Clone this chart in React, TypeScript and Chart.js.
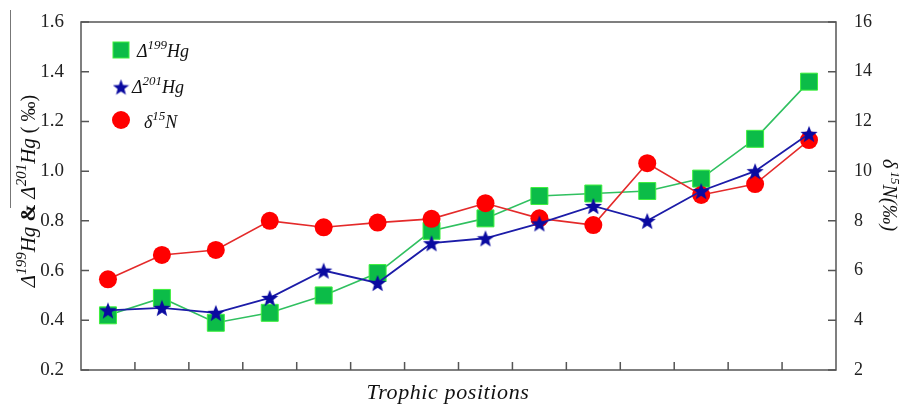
import React, { useEffect, useRef } from 'react';
import { Chart, registerables } from 'chart.js';
Chart.register(...registerables);

const categories = ['1', '2', '3', '4', '5', '6', '7', '8', '9', '10', '11', '12', '13', '14'];
const d199Hg = [0.42, 0.49, 0.39, 0.43, 0.50, 0.59, 0.76, 0.81, 0.90, 0.91, 0.92, 0.97, 1.13, 1.36];
const d201Hg = [0.44, 0.45, 0.43, 0.49, 0.60, 0.55, 0.71, 0.73, 0.79, 0.86, 0.80, 0.92, 1.00, 1.15];
const d15N = [5.65, 6.63, 6.83, 8.0, 7.74, 7.93, 8.08, 8.71, 8.10, 7.83, 10.32, 9.04, 9.48, 11.25];
const leftTicks = [0.2, 0.4, 0.6, 0.8, 1.0, 1.2, 1.4, 1.6];
const rightTicks = [2, 4, 6, 8, 10, 12, 14, 16];
const xTitle = 'Trophic positions';

const SERIF = '"Liberation Serif", "DejaVu Serif", serif';
const GREEN_FILL = '#0cbc48';
const GREEN_EDGE = '#3ef03e';
const GREEN_LINE = '#30c060';
const BLUE = '#0a0aa0';
const BLUE_LINE = '#1c1ca8';
const RED = '#ff0000';
const RED_LINE = '#e42a2a';
const AXIS = '#555555';

function makeStar(size: number, fill: string) {
  const c = document.createElement('canvas');
  c.width = size;
  c.height = size;
  const g = c.getContext('2d')!;
  const cx = size / 2;
  const cy = size / 2 + size * 0.05;
  const R = size / 2;
  const r = R * 0.42;
  g.beginPath();
  for (let i = 0; i < 10; i++) {
    const rad = i % 2 === 0 ? R : r;
    const a = -Math.PI / 2 + (i * Math.PI) / 5;
    const px = cx + rad * Math.cos(a);
    const py = cy + rad * Math.sin(a);
    if (i === 0) g.moveTo(px, py);
    else g.lineTo(px, py);
  }
  g.closePath();
  g.fillStyle = fill;
  g.fill();
  return c;
}

type Part = { t: string; font: string; dy?: number };

function richWidth(ctx: CanvasRenderingContext2D, parts: Part[]) {
  let w = 0;
  for (const p of parts) {
    ctx.font = p.font;
    w += ctx.measureText(p.t).width;
  }
  return w;
}

function drawRich(ctx: CanvasRenderingContext2D, x: number, y: number, parts: Part[]) {
  ctx.textAlign = 'left';
  ctx.textBaseline = 'alphabetic';
  let cx = x;
  for (const p of parts) {
    ctx.font = p.font;
    ctx.fillText(p.t, cx, y + (p.dy || 0));
    cx += ctx.measureText(p.t).width;
  }
}

const it = (s: number) => `italic ${s}px ${SERIF}`;
const up = (s: number) => `${s}px ${SERIF}`;

const decorPlugin = {
  id: 'decor',
  afterDraw(chart: any) {
    const ctx: CanvasRenderingContext2D = chart.ctx;
    const { left, right, top, bottom } = chart.chartArea;
    const x = chart.scales.x;
    const yl = chart.scales.yL;
    const yr = chart.scales.yR;
    ctx.save();
    // frame
    ctx.strokeStyle = AXIS;
    ctx.lineWidth = 1.5;
    ctx.strokeRect(left, top, right - left, bottom - top);
    // inner ticks
    ctx.beginPath();
    for (let i = 1; i < categories.length; i++) {
      const px = (x.getPixelForTick(i - 1) + x.getPixelForTick(i)) / 2;
      ctx.moveTo(px, bottom);
      ctx.lineTo(px, bottom - 8);
    }
    for (const v of leftTicks) {
      const py = yl.getPixelForValue(v);
      ctx.moveTo(left, py);
      ctx.lineTo(left + 8, py);
    }
    for (const v of rightTicks) {
      const py = yr.getPixelForValue(v);
      ctx.moveTo(right, py);
      ctx.lineTo(right - 8, py);
    }
    ctx.stroke();

    // legend
    const lx = 121;
    ctx.fillStyle = GREEN_FILL;
    ctx.fillRect(lx - 8, 50 - 8, 16, 16);
    ctx.strokeStyle = GREEN_EDGE;
    ctx.lineWidth = 1;
    ctx.strokeRect(lx - 8, 50 - 8, 16, 16);
    const star = makeStar(17, BLUE);
    ctx.drawImage(star, lx - 8.5, 87 - 8.5);
    ctx.fillStyle = RED;
    ctx.beginPath();
    ctx.arc(lx, 120, 9, 0, Math.PI * 2);
    ctx.fill();

    ctx.fillStyle = '#111111';
    drawRich(ctx, 137, 57, [
      { t: 'Δ', font: it(18) },
      { t: '199', font: it(13), dy: -8 },
      { t: 'Hg', font: it(18) },
    ]);
    drawRich(ctx, 132, 93, [
      { t: 'Δ', font: it(18) },
      { t: '201', font: it(13), dy: -8 },
      { t: 'Hg', font: it(18) },
    ]);
    drawRich(ctx, 144, 128, [
      { t: 'δ', font: it(18) },
      { t: '15', font: it(13), dy: -8 },
      { t: 'N', font: it(18) },
    ]);

    // left axis title
    const lparts: Part[] = [
      { t: 'Δ', font: it(21) },
      { t: '199', font: it(15), dy: -9 },
      { t: 'Hg', font: it(21) },
      { t: ' & ', font: `bold 21px ${SERIF}` },
      { t: 'Δ', font: it(21) },
      { t: '201', font: it(15), dy: -9 },
      { t: 'Hg', font: it(21) },
      { t: ' ( ‰)', font: up(20) },
    ];
    const lw = richWidth(ctx, lparts);
    ctx.save();
    ctx.translate(35, 191);
    ctx.rotate(-Math.PI / 2);
    drawRich(ctx, -lw / 2, 0, lparts);
    ctx.restore();
    // stray overline next to left title
    ctx.strokeStyle = '#777777';
    ctx.lineWidth = 1;
    ctx.beginPath();
    ctx.moveTo(10.5, 10);
    ctx.lineTo(10.5, 208);
    ctx.stroke();

    // right axis title
    const rparts: Part[] = [
      { t: 'δ', font: it(20) },
      { t: ' 15', font: it(13), dy: -8 },
      { t: 'N', font: it(20) },
      { t: '(%', font: it(20) },
      { t: '0)', font: it(20) },
    ];
    const rparts2: Part[] = [
      { t: 'δ', font: it(20) },
      { t: ' 15', font: it(13), dy: -8 },
      { t: 'N', font: it(20) },
      { t: '(‰)', font: it(20) },
    ];
    void rparts;
    const rw = richWidth(ctx, rparts2);
    ctx.save();
    ctx.translate(883, 195);
    ctx.rotate(Math.PI / 2);
    drawRich(ctx, -rw / 2, 0, rparts2);
    ctx.restore();

    // x title
    ctx.font = it(22);
    (ctx as any).letterSpacing = '0.6px';
    ctx.textAlign = 'center';
    ctx.textBaseline = 'middle';
    ctx.fillText(xTitle, 448, 393);
    (ctx as any).letterSpacing = '0px';
    ctx.restore();
  },
};

export default function App() {
  const ref = useRef<HTMLCanvasElement>(null);
  useEffect(() => {
    const star = makeStar(18, BLUE);
    const chart = new Chart(ref.current!, {
      type: 'line',
      data: {
        labels: categories,
        datasets: [
          {
            label: 'Δ199Hg',
            data: d199Hg,
            yAxisID: 'yL',
            borderColor: GREEN_LINE,
            borderWidth: 1.6,
            pointStyle: 'rect',
            pointRadius: 12,
            pointBackgroundColor: GREEN_FILL,
            pointBorderColor: GREEN_EDGE,
            pointBorderWidth: 1,
            order: 3,
          },
          {
            label: 'δ15N',
            data: d15N,
            yAxisID: 'yR',
            borderColor: RED_LINE,
            borderWidth: 1.6,
            pointStyle: 'circle',
            pointRadius: 9,
            pointBackgroundColor: RED,
            pointBorderColor: RED,
            pointBorderWidth: 0,
            order: 2,
          },
          {
            label: 'Δ201Hg',
            data: d201Hg,
            yAxisID: 'yL',
            borderColor: BLUE_LINE,
            borderWidth: 1.8,
            pointStyle: star as any,
            pointRadius: 9,
            pointBackgroundColor: BLUE,
            pointBorderColor: BLUE,
            order: 1,
          },
        ],
      },
      options: {
        animation: false,
        responsive: true,
        maintainAspectRatio: false,
        layout: { padding: { top: 22, left: 0, right: 0, bottom: 0 } },
        plugins: { legend: { display: false }, tooltip: { enabled: false }, title: { display: false } },
        scales: {
          x: {
            type: 'category',
            offset: true,
            grid: { display: false, offset: true },
            border: { display: false },
            ticks: { display: false },
            afterFit: (s: any) => { s.height = 35; },
          },
          yL: {
            type: 'linear',
            position: 'left',
            min: 0.2,
            max: 1.6,
            grid: { display: false },
            border: { display: false },
            ticks: {
              stepSize: 0.2,
              padding: 9,
              color: '#222222',
              font: { family: SERIF, size: 19 },
              callback: (v: any) => Number(v).toFixed(1),
            },
            afterBuildTicks: (s: any) => { s.ticks = leftTicks.map((v) => ({ value: v })); },
            afterFit: (s: any) => { s.width = 81; },
          },
          yR: {
            type: 'linear',
            position: 'right',
            min: 2,
            max: 16,
            grid: { display: false },
            border: { display: false },
            ticks: {
              stepSize: 2,
              padding: 10,
              color: '#222222',
              font: { family: SERIF, size: 18 },
            },
            afterBuildTicks: (s: any) => { s.ticks = rightTicks.map((v) => ({ value: v })); },
            afterFit: (s: any) => { s.width = 67; },
          },
        },
      },
      plugins: [decorPlugin],
    });
    return () => chart.destroy();
  }, []);
  return (
    <div style={{ position: 'fixed', left: 0, top: 0, width: 903, height: 405, background: '#ffffff' }}>
      <canvas ref={ref} />
    </div>
  );
}
